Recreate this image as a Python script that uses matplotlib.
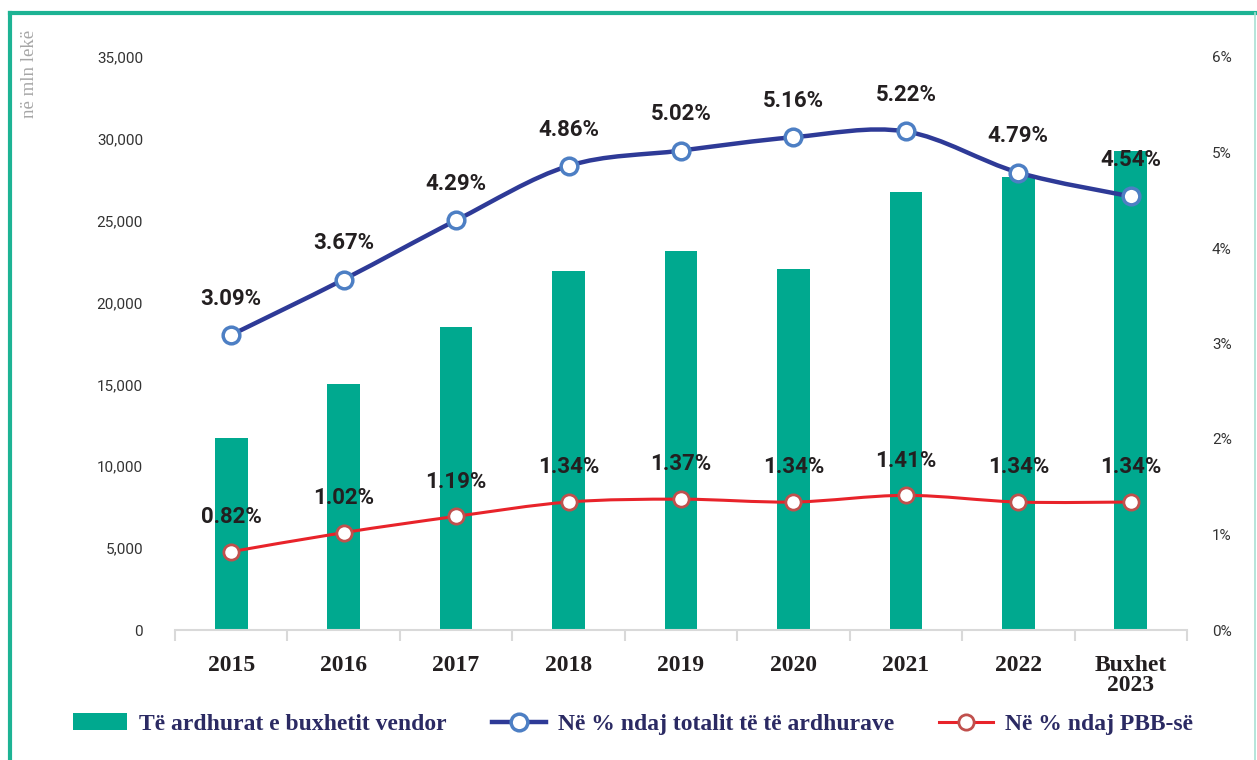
import matplotlib
matplotlib.use("Agg")
import matplotlib.pyplot as plt
from matplotlib.path import Path
from matplotlib.patches import PathPatch, Patch
from matplotlib.lines import Line2D
import numpy as np

categories = ["2015", "2016", "2017", "2018", "2019", "2020", "2021", "2022", "Buxhet\n2023"]
revenues = [11700, 15000, 18500, 21900, 23150, 22050, 26750, 27700, 29250]
share_total = [3.09, 3.67, 4.29, 4.86, 5.02, 5.16, 5.22, 4.79, 4.54]
share_gdp = [0.82, 1.02, 1.19, 1.34, 1.37, 1.34, 1.41, 1.34, 1.34]
left_ticks = [0, 5000, 10000, 15000, 20000, 25000, 30000, 35000]
right_ticks = [0, 1, 2, 3, 4, 5, 6]

BAR = "#00a98f"
BLUE = "#2e3a97"
BLUE_EDGE = "#4d7fc4"
RED = "#e8232a"
RED_EDGE = "#c0504d"
TXT = "#231f20"
NAVY = "#2b2a63"

fig = plt.figure(figsize=(12.57, 7.6), dpi=100)
W, H = 1257, 760
ax = fig.add_axes([175 / W, 1 - 630 / H, (1187 - 175) / W, (630 - 57) / H])
ax2 = ax.twinx()

x = np.arange(len(categories))
ax.bar(x, revenues, width=0.29, color=BAR, zorder=2)
ax.set_xlim(-0.5, len(categories) - 0.5)
ax.set_ylim(0, 35000)
ax.set_yticks(left_ticks)
ax.set_yticklabels([f"{v:,}" for v in left_ticks], fontsize=11, color="#333333", family="Roboto")
ax.tick_params(axis="y", length=0, pad=23)
ax.set_xticks(x)
ax.set_xticklabels(categories, fontsize=17, fontweight="bold", family="Liberation Serif", color=TXT,
                   linespacing=0.95)
ax.tick_params(axis="x", which="major", length=0, pad=18)
ax.set_xticks(np.arange(-0.5, len(categories)), minor=True)
ax.tick_params(axis="x", which="minor", length=8, color="#d9d9d9", width=1.5)
for s in ["top", "right", "left"]:
    ax.spines[s].set_visible(False)
ax.spines["bottom"].set_color("#d9d9d9")
ax.spines["bottom"].set_linewidth(1.5)

ax2.set_ylim(0, 6)
ax2.set_yticks(right_ticks)
ax2.set_yticklabels([f"{v}%" for v in right_ticks], fontsize=11, color="#333333", family="Roboto")
ax2.tick_params(axis="y", length=0, pad=18)
for s in ["top", "right", "left", "bottom"]:
    ax2.spines[s].set_visible(False)


def smooth_path(xs, ys):
    xs = np.asarray(xs, float)
    ys = np.asarray(ys, float)
    n = len(xs)
    verts = [(xs[0], ys[0])]
    codes = [Path.MOVETO]
    for i in range(n - 1):
        i0 = max(i - 1, 0)
        i3 = min(i + 2, n - 1)
        c1 = (xs[i] + (xs[i + 1] - xs[i0]) / 6, ys[i] + (ys[i + 1] - ys[i0]) / 6)
        c2 = (xs[i + 1] - (xs[i3] - xs[i]) / 6, ys[i + 1] - (ys[i3] - ys[i]) / 6)
        verts += [c1, c2, (xs[i + 1], ys[i + 1])]
        codes += [Path.CURVE4] * 3
    return Path(verts, codes)


ax2.add_patch(PathPatch(smooth_path(x, share_total), fill=False, edgecolor=BLUE, lw=3.2, zorder=3))
ax2.plot(x, share_total, ls="none", marker="o", ms=12, mfc="white", mec=BLUE_EDGE, mew=2.5, zorder=4)
ax2.add_patch(PathPatch(smooth_path(x, share_gdp), fill=False, edgecolor=RED, lw=2.2, zorder=3))
ax2.plot(x, share_gdp, ls="none", marker="o", ms=11, mfc="white", mec=RED_EDGE, mew=2, zorder=4)

for xi, v in zip(x, share_total):
    ax2.annotate(f"{v:.2f}%", (xi, v), xytext=(0, 26), textcoords="offset points", ha="center",
                 va="center", fontsize=16, fontweight="bold", family="Roboto", color=TXT, zorder=5)
for xi, v in zip(x, share_gdp):
    ax2.annotate(f"{v:.2f}%", (xi, v), xytext=(0, 25), textcoords="offset points", ha="center",
                 va="center", fontsize=16, fontweight="bold", family="Roboto", color=TXT, zorder=5)

# y axis unit label
fig.text(29 / W, 1 - 30 / H, "në mln lekë", rotation=90, ha="center", va="top", fontsize=13.5,
         family="Liberation Serif", color="#a6a6a6")

# frame
fig.add_artist(Line2D([10 / W, 1], [1 - 13 / H, 1 - 13 / H], color="#1db394", lw=3, transform=fig.transFigure))
fig.add_artist(Line2D([10 / W, 10 / W], [0, 1 - 13 / H], color="#1db394", lw=3, transform=fig.transFigure))
fig.add_artist(Line2D([1255 / W, 1255 / W], [0, 1 - 13 / H], color="#a8e0d3", lw=1.2, transform=fig.transFigure))

handles = [
    Patch(facecolor=BAR, edgecolor="none"),
    Line2D([], [], color=BLUE, lw=3.2, marker="o", ms=12, mfc="white", mec=BLUE_EDGE, mew=2.5),
    Line2D([], [], color=RED, lw=2.2, marker="o", ms=11, mfc="white", mec=RED_EDGE, mew=2),
]
labels = ["Të ardhurat e buxhetit vendor", "Në % ndaj totalit të të ardhurave", "Në % ndaj PBB-së"]
leg = fig.legend(handles, labels, loc="center", bbox_to_anchor=(633 / W, 1 - 724 / H), ncol=3,
                 frameon=False, handlelength=2.3, handleheight=0.7, handletextpad=0.5, columnspacing=1.9,
                 prop={"family": "Liberation Serif", "weight": "bold", "size": 17})
for t in leg.get_texts():
    t.set_color(NAVY)

fig.savefig("out.png", dpi=100)
